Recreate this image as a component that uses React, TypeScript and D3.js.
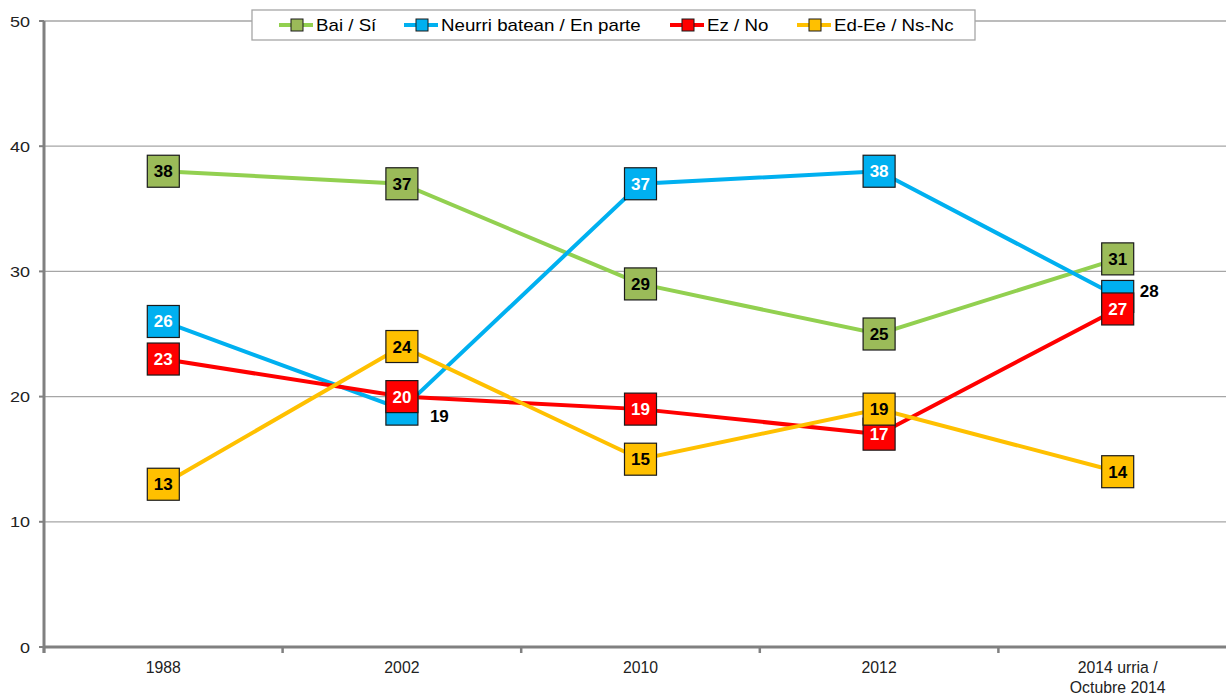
import React from 'react';
import * as d3 from 'd3';

// categorías (dos líneas en la última)
const categories = ['1988', '2002', '2010', '2012', '2014 urria / Octubre 2014'];
const seriesNames = ['Bai / Sí', 'Neurri batean / En parte', 'Ez / No', 'Ed-Ee / Ns-Nc'];
const baiValues = [38, 37, 29, 25, 31];
const neurriValues = [26, 19, 37, 38, 28];
const ezValues = [23, 20, 19, 17, 27];
const edeeValues = [13, 24, 15, 19, 14];
const yTicks = [0, 10, 20, 30, 40, 50];

const W = 1226, H = 697;
const left = 44, top = 21, bottom = 647, band = 238.6;
const MK = 32;

const styles = [
  { line: '#92D050', fill: '#9BBB59', text: '#000' },
  { line: '#00B0F0', fill: '#00B0F0', text: '#fff' },
  { line: '#FF0000', fill: '#FF0000', text: '#fff' },
  { line: '#FFC000', fill: '#FFC000', text: '#000' },
];
// etiquetas tapadas por otro marcador -> se escriben a la derecha
const outsideLabels: Record<string, { dx: number; dy: number }> = {
  '1-1': { dx: 28, dy: 13 },
  '1-4': { dx: 22, dy: 1 },
};

// texto algo ensanchado, como en el original
function Wide(props: { x: number; y: number; sx?: number; anchor?: string; size: number; fill?: string; children: React.ReactNode }) {
  const { x, y, sx = 1.2, anchor = 'start', size, fill = '#000', children } = props;
  return (
    <g transform={`translate(${x},${y}) scale(${sx},1)`}>
      <text textAnchor={anchor} fontSize={size} fill={fill}>{children}</text>
    </g>
  );
}

export default function App() {
  const allSeries = [baiValues, neurriValues, ezValues, edeeValues];
  const x = d3.scaleBand<string>().domain(categories).range([left, left + band * categories.length]);
  const y = d3.scaleLinear().domain([0, 50]).range([bottom, top]);
  const cx = (c: string) => (x(c) as number) + x.bandwidth() / 2;
  const line = d3.line<number>().x((_, i) => cx(categories[i])).y(d => y(d));

  const legendX = [279, 404, 670, 797];

  return (
    <svg width={W} height={H} style={{ position: 'absolute', left: 0, top: 0, background: '#fff' }}
      fontFamily="'Liberation Sans', Arial, sans-serif">
      {/* rejilla */}
      {yTicks.filter(t => t > 0).map(t => (
        <line key={t} x1={left} x2={W} y1={y(t)} y2={y(t)} stroke="#A6A6A6" strokeWidth={1.3} />
      ))}
      {/* eje y */}
      <line x1={left} x2={left} y1={top} y2={bottom + 6} stroke="#808080" strokeWidth={3} />
      {yTicks.map(t => (
        <g key={t}>
          <line x1={left - 5} x2={left} y1={y(t)} y2={y(t)} stroke="#808080" strokeWidth={2} />
          <Wide x={30} y={y(t) + 5.5} anchor="end" size={15} fill="#222">{t}</Wide>
        </g>
      ))}
      {/* eje x */}
      <line x1={left} x2={W} y1={bottom} y2={bottom} stroke="#808080" strokeWidth={3} />
      {categories.map(c => (
        <line key={c} x1={(x(c) as number)} x2={(x(c) as number)} y1={bottom} y2={bottom + 6} stroke="#808080" strokeWidth={2.5} />
      ))}
      {categories.map(c => {
        const parts = c.includes(' / ') ? [c.split(' / ')[0] + ' /', c.split(' / ')[1]] : [c];
        return (
          <g key={c}>
            {parts.map((p, k) => (
              <Wide key={k} x={cx(c)} y={673 + k * 20} anchor="middle" size={17} sx={0.93} fill="#222">{p}</Wide>
            ))}
          </g>
        );
      })}
      {/* series */}
      {allSeries.map((vals, si) => (
        <g key={si}>
          <path d={line(vals) || ''} fill="none" stroke={styles[si].line} strokeWidth={4} />
          {vals.map((v, i) => (
            <rect key={i} x={cx(categories[i]) - MK / 2} y={y(v) - MK / 2} width={MK} height={MK}
              fill={styles[si].fill} stroke="#1a1a1a" strokeWidth={1.2} />
          ))}
        </g>
      ))}
      {allSeries.map((vals, si) => vals.map((v, i) => {
        const out = outsideLabels[si + '-' + i];
        return (
          <text key={si + '-' + i} x={out ? cx(categories[i]) + out.dx : cx(categories[i])} y={y(v) + (out ? out.dy : 6)}
            textAnchor={out ? 'start' : 'middle'} fontSize={17} fontWeight="bold"
            fill={out ? '#000' : styles[si].text}>{v}</text>
        );
      }))}
      {/* leyenda */}
      <rect x={252} y={10} width={723} height={30} fill="#fff" stroke="#A6A6A6" strokeWidth={1.3} />
      {seriesNames.map((n, si) => (
        <g key={n} transform={`translate(${legendX[si]},25)`}>
          <line x1={0} x2={34} y1={0} y2={0} stroke={styles[si].line} strokeWidth={4} />
          <rect x={12} y={-6} width={12} height={12} fill={styles[si].fill} stroke="#1a1a1a" strokeWidth={1} />
          <Wide x={37} y={6} size={16} sx={1.17}>{n}</Wide>
        </g>
      ))}
    </svg>
  );
}
